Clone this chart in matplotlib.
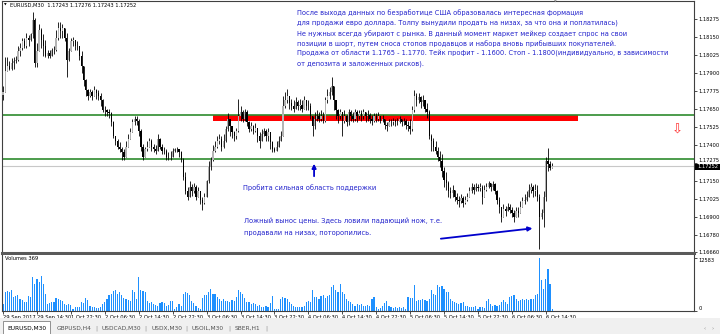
import matplotlib

matplotlib.use("Agg")
import matplotlib.pyplot as plt
import numpy as np
from matplotlib.patches import Rectangle

W, H = 720, 334
BASE = 1.16  # prices below are stored as pips above 1.1600

# EURUSD M30 candles (pips above 1.1600)
close_pips = [
    177, 191, 195, 193, 197, 198, 199, 205, 207, 212, 209, 214, 213, 217, 227, 197,
    205, 220, 213, 209, 202, 204, 202, 206, 206, 214, 221, 219, 221, 214, 199, 205,
    212, 213, 209, 209, 202, 195, 185, 178, 174, 177, 174, 178, 176, 174, 171, 164,
    164, 163, 162, 156, 146, 143, 139, 137, 135, 132, 139, 144, 149, 156, 158, 157,
    150, 139, 132, 137, 139, 143, 139, 137, 136, 144, 139, 136, 136, 132, 132, 132,
    136, 137, 137, 135, 130, 118, 108, 104, 111, 108, 111, 104, 108, 102, 100, 104,
    115, 125, 130, 136, 139, 143, 144, 139, 143, 151, 158, 153, 149, 146, 150, 160,
    163, 158, 163, 156, 151, 153, 150, 152, 146, 143, 148, 150, 146, 149, 142, 137,
    136, 139, 143, 146, 167, 171, 174, 169, 167, 165, 170, 167, 168, 165, 171, 167,
    167, 160, 153, 158, 160, 158, 160, 157, 171, 174, 177, 181, 171, 164, 160, 163,
    157, 160, 156, 163, 160, 158, 163, 160, 162, 160, 163, 160, 161, 158, 157, 160,
    158, 160, 157, 158, 154, 153, 156, 156, 157, 156, 156, 158, 156, 157, 154, 153,
    151, 164, 174, 171, 173, 170, 171, 165, 163, 146, 143, 139, 136, 132, 129, 122,
    116, 114, 108, 107, 109, 104, 102, 101, 103, 100, 102, 104, 108, 111, 109, 111,
    110, 111, 104, 109, 111, 114, 111, 113, 108, 102, 97, 90, 96, 94, 97, 95,
    93, 90, 94, 93, 97, 101, 102, 104, 109, 111, 108, 109, 104, 90, 93, 104,
    129, 127, 124.3, 125.2,
]
high_pips = [
    181, 201, 201, 198, 200, 201, 202, 209, 211, 214, 214, 218, 216, 218, 232, 228,
    211, 224, 221, 217, 213, 206, 206, 207, 209, 220, 225, 225, 224, 221, 218, 207,
    214, 215, 213, 212, 207, 205, 192, 186, 179, 179, 178, 181, 179, 178, 176, 172,
    167, 165, 165, 163, 157, 146, 144, 142, 139, 137, 143, 148, 152, 158, 160, 160,
    158, 151, 141, 139, 143, 145, 144, 141, 140, 148, 145, 141, 139, 137, 135, 136,
    138, 138, 139, 137, 136, 131, 121, 111, 115, 113, 114, 112, 111, 108, 104, 107,
    116, 129, 132, 140, 143, 146, 148, 146, 148, 153, 162, 158, 153, 150, 152, 172,
    167, 164, 165, 164, 157, 156, 154, 155, 152, 149, 151, 152, 151, 152, 146, 143,
    139, 143, 146, 150, 174, 177, 179, 174, 172, 171, 173, 171, 172, 171, 174, 171,
    171, 169, 160, 163, 164, 163, 164, 163, 173, 179, 180, 187, 181, 171, 165, 165,
    163, 164, 161, 165, 164, 163, 165, 164, 164, 164, 165, 163, 164, 162, 161, 162,
    162, 163, 160, 161, 158, 156, 158, 158, 159, 158, 159, 160, 158, 159, 158, 157,
    158, 167, 178, 176, 176, 174, 175, 171, 169, 164, 148, 145, 143, 139, 136, 134,
    125, 121, 115, 111, 112, 109, 107, 105, 106, 105, 105, 107, 111, 114, 113, 114,
    113, 114, 112, 112, 114, 115, 114, 115, 114, 109, 104, 97, 99, 98, 100, 99,
    97, 95, 97, 97, 101, 104, 106, 108, 113, 114, 112, 113, 112, 106, 96, 108,
    132, 138, 129, 127.6,
]
low_pips = [
    171, 177, 191, 192, 192, 193, 197, 198, 202, 206, 207, 207, 209, 212, 214, 194,
    194, 205, 207, 202, 201, 200, 200, 202, 203, 205, 213, 214, 214, 212, 187, 198,
    206, 209, 206, 206, 199, 190, 181, 174, 171, 173, 171, 174, 172, 171, 167, 163,
    160, 160, 159, 153, 145, 140, 137, 135, 130, 130, 136, 139, 144, 151, 154, 154,
    146, 136, 130, 132, 136, 139, 136, 135, 134, 136, 137, 134, 134, 130, 130, 130,
    132, 135, 135, 132, 128, 116, 106, 102, 104, 105, 107, 102, 104, 99, 95, 99,
    105, 114, 123, 129, 135, 138, 141, 136, 138, 142, 150, 146, 145, 143, 144, 149,
    157, 156, 157, 153, 149, 150, 148, 149, 142, 138, 143, 146, 143, 143, 137, 135,
    135, 136, 139, 143, 150, 166, 169, 165, 164, 163, 165, 164, 164, 163, 167, 164,
    164, 158, 146, 151, 157, 156, 157, 155, 156, 169, 172, 175, 164, 158, 155, 158,
    146, 155, 153, 154, 157, 156, 157, 156, 158, 157, 158, 156, 157, 155, 154, 156,
    156, 157, 155, 156, 151, 150, 153, 153, 154, 153, 154, 155, 153, 154, 151, 150,
    148, 150, 163, 167, 169, 166, 167, 163, 159, 144, 136, 136, 134, 129, 125, 118,
    111, 109, 104, 103, 104, 101, 99, 97, 100, 97, 99, 101, 104, 107, 106, 108,
    108, 108, 99, 104, 108, 110, 108, 109, 106, 99, 93, 87, 92, 91, 94, 93,
    90, 87, 90, 90, 93, 97, 99, 101, 104, 107, 104, 105, 101, 68, 89, 83,
    101, 122, 123, 124.3,
]
first_open_pips = 175
volumes = [
    1675, 4460, 4700, 4460, 4860, 3270, 3430, 3670, 2870, 2630, 2070, 2070, 3430, 3270, 8050, 6455,
    7650, 6850, 8210, 6455, 4065, 1675, 1830, 2070, 2070, 3110, 2870, 2630, 2470, 1675, 1515, 1675,
    1515, 480, 875, 875, 1035, 2070, 1830, 3110, 2630, 1275, 1035, 875, 715, 640, 875, 1675,
    2070, 2870, 3670, 4065, 4700, 4860, 4065, 4460, 3670, 3110, 2870, 2630, 2470, 4860, 4460, 2870,
    8050, 4860, 4700, 4460, 2470, 1830, 2070, 1675, 1515, 1275, 1830, 2070, 1830, 1275, 1515, 2470,
    2310, 480, 875, 1675, 1275, 4065, 4460, 4225, 3670, 2470, 1830, 1275, 715, 480, 3110, 3670,
    3670, 4460, 5260, 4065, 3905, 3270, 2870, 2470, 2870, 2470, 2310, 2070, 2630, 2470, 3270, 4860,
    4460, 4065, 3110, 2070, 2070, 1675, 1830, 1675, 1275, 1515, 1035, 875, 1275, 875, 1830, 3430,
    480, 480, 480, 2870, 3270, 3110, 2870, 2070, 1675, 1275, 1035, 875, 1035, 875, 1275, 2070,
    2310, 2070, 4860, 3270, 3270, 2870, 3430, 3670, 3110, 3430, 3670, 5660, 6060, 4860, 4460, 6455,
    4460, 4065, 2870, 2470, 2070, 1675, 1275, 1675, 1515, 1675, 1275, 1275, 1515, 1275, 2870, 3270,
    875, 480, 715, 1275, 1830, 2470, 1275, 875, 715, 875, 715, 875, 640, 875, 480, 3270,
    3110, 3110, 6060, 2470, 2630, 2630, 2870, 2630, 2470, 2870, 4860, 3905, 3670, 6060, 5660, 5820,
    5260, 4460, 4460, 2870, 2310, 2070, 1830, 1675, 1830, 2070, 1275, 1275, 875, 1035, 875, 1275,
    480, 875, 875, 715, 2470, 2870, 1675, 1275, 1515, 1275, 1515, 2070, 2630, 2070, 1675, 3270,
    3430, 3670, 2870, 2470, 2630, 2870, 2630, 2870, 2630, 2870, 2870, 3670, 4065, 12583, 7250, 5260,
    7650, 10040, 6455, 369,
]

time_labels = [
    "29 Sep 2017", "29 Sep 14:30", "1 Oct 22:30", "2 Oct 06:30", "2 Oct 14:30",
    "2 Oct 22:30", "3 Oct 06:30", "3 Oct 14:30", "3 Oct 22:30", "4 Oct 06:30",
    "4 Oct 14:30", "4 Oct 22:30", "5 Oct 06:30", "5 Oct 14:30", "5 Oct 22:30",
    "6 Oct 06:30", "6 Oct 14:30",
]
bars_per_label = 16
price_ticks = [1.18275, 1.18150, 1.18025, 1.17900, 1.17775, 1.17650, 1.17525,
               1.17400, 1.17275, 1.17150, 1.17025, 1.16900, 1.16780, 1.16660]

resistance = 1.17608
support = 1.17304
sell_zone = (1.17567, 1.17608)
sell_zone_bars = (99, 271)
last_price = 1.17252
vol_max = 12583

note_lines = [
    "После выхода данных по безработице США образовалась интересная формация",
    "для продажи евро доллара. Толпу вынудили продать на низах, за что она и поплатилась)",
    "Не нужных всегда убирают с рынка. В данный момент маркет мейкер создает спрос на свои",
    "позиции в шорт, путем сноса стопов продавцов и набора вновь прибывших покупателей.",
    "Продажа от области 1.1765 - 1.1770. Тейк профит - 1.1600. Стоп - 1.1800(индивидуально, в зависимости",
    "от депозита и заложенных рисков).",
]
support_note = "Пробита сильная область поддержки"
fake_lines = ["Ложный вынос цены. Здесь ловили падающий нож, т.е.",
              "продавали на низах, поторопились."]
tabs = ["GBPUSD,H4", "USDCAD,M30", "USDX,M30", "USOIL,M30", "SBER,H1"]

close = BASE + np.array(close_pips) / 1e4
high = BASE + np.array(high_pips) / 1e4
low = BASE + np.array(low_pips) / 1e4
opens = np.r_[BASE + first_open_pips / 1e4, close[:-1]]
high = np.maximum.reduce([high, opens, close])
low = np.minimum.reduce([low, opens, close])
idx = np.arange(len(close))
up = close >= opens

NOTE = "#2222cc"
FS = 3.7


def rect(x0, y0, x1, y1):
    return [x0 / W, 1 - y1 / H, (x1 - x0) / W, (y1 - y0) / H]


def ftext(x, y, s, **kw):
    kw.setdefault("fontsize", FS)
    kw.setdefault("va", "center")
    fig.text(x / W, 1 - y / H, s, **kw)


fig = plt.figure(figsize=(W / 100, H / 100), dpi=100)
fig.patches.append(Rectangle((0, 0), 1, 1 - 318 / H, transform=fig.transFigure,
                             facecolor="#f0f0f0", edgecolor="none", zorder=0))

ax = fig.add_axes(rect(2, 1, 694, 253))
ax.set_xlim(-0.5, 325.9)
ax.set_ylim(1.166521, 1.183984)

# sell zone and levels
ax.add_patch(Rectangle((sell_zone_bars[0], sell_zone[0]), sell_zone_bars[1] - sell_zone_bars[0],
                       sell_zone[1] - sell_zone[0], facecolor="#ff0000", edgecolor="none", zorder=1))
ax.axhline(last_price, color="#c8c8c8", lw=0.8, zorder=1)
ax.axhline(resistance, color="#2e8b2e", lw=1.2, zorder=2)
ax.axhline(support, color="#2e8b2e", lw=1.2, zorder=2)

ax.vlines(idx, low, high, color="black", lw=0.6, zorder=3)
ax.bar(idx[up], (close - opens)[up], bottom=opens[up], width=0.6, color="#b4b4b4", lw=0, zorder=4)
ax.bar(idx[~up], (close - opens)[~up], bottom=opens[~up], width=0.6, color="black", lw=0, zorder=4)

ax.annotate("", xy=(146.7, 1.17290), xytext=(146.7, 1.17165),
            arrowprops=dict(arrowstyle="-|>", color="#0000cc", lw=1.3, mutation_scale=6))
ax.annotate("", xy=(251, 1.16825), xytext=(205.2, 1.16749),
            arrowprops=dict(arrowstyle="-|>", color="#0000cc", lw=1.3, mutation_scale=6))

ax.yaxis.tick_right()
ax.set_yticks(price_ticks)
ax.set_yticklabels([f"{p:.5f}" for p in price_ticks])
ax.tick_params(axis="y", length=2, width=0.5, labelsize=FS, pad=1.5)
for lab, p in zip(ax.get_yticklabels(), price_ticks):
    if p == 1.17275:
        lab.set_va("bottom")
ax.set_xticks([])
for side in ("left", "right", "top"):
    ax.spines[side].set_color("#404040")
    ax.spines[side].set_linewidth(0.8)
ax.spines["bottom"].set_color("#5a5a5a")
ax.spines["bottom"].set_linewidth(2.2)

vax = fig.add_axes(rect(2, 255, 694, 311))
vax.bar(idx, volumes, width=0.55, color="#1e90ff", lw=0)
vax.set_xlim(-0.5, 325.9)
vax.set_ylim(0, vol_max * 56 / 53.2)
vax.yaxis.tick_right()
vax.set_yticks([0, vol_max])
vax.set_yticklabels(["0", str(vol_max)])
vax.get_yticklabels()[0].set_va("bottom")
vax.get_yticklabels()[1].set_va("top")
vax.tick_params(axis="y", length=2, width=0.5, labelsize=FS, pad=1.5)
vax.set_xticks(np.arange(len(time_labels)) * bars_per_label)
vax.set_xticklabels(time_labels, ha="left")
vax.tick_params(axis="x", length=2, width=0.5, labelsize=FS, pad=1)
vax.spines["top"].set_visible(False)
for side in ("left", "right", "bottom"):
    vax.spines[side].set_color("#404040")
    vax.spines[side].set_linewidth(0.8)

# header and labels
ftext(4, 5, "▼", fontsize=2.5)
ftext(10, 5, "EURUSD,M30  1.17243 1.17276 1.17243 1.17252")
ftext(555, 2, "▼", fontsize=2.5, color="#909090", ha="center")
ftext(5, 259, "Volumes 369")
fig.patches.append(Rectangle((695 / W, 1 - 170 / H), 25 / W, 6.5 / H, transform=fig.transFigure,
                             facecolor="black", edgecolor="none", zorder=5))
ftext(697, 166.8, f"{last_price:.5f}", color="white", zorder=6)
ftext(677, 130, "⇩", fontsize=9.5, color="#ff3030", ha="center")

for k, line in enumerate(note_lines):
    ftext(297, 13 + 10.2 * k, line, fontsize=4.8, color=NOTE)
ftext(243, 188, support_note, fontsize=4.8, color=NOTE)
for k, line in enumerate(fake_lines):
    ftext(244, 221 + 11.5 * k, line, fontsize=4.8, color=NOTE)

# terminal tabs
fig.patches.append(Rectangle((3 / W, 0), 47 / W, 13 / H, transform=fig.transFigure,
                             facecolor="white", edgecolor="#808080", lw=0.6, zorder=1))
ftext(7, 328, "EURUSD,M30", fontsize=4.2)
for x, name in zip([57, 102, 152, 192, 235], tabs):
    ftext(x, 328, name, fontsize=4.2, color="#505050")
for x in [95, 144, 185, 228, 265]:
    ftext(x, 328, "|", fontsize=4.2, color="#909090")
ftext(704, 329, "‹", fontsize=4, color="#909090")
ftext(712, 329, "›", fontsize=4, color="#909090")

fig.savefig("out.png", dpi=100)
plt.close(fig)
